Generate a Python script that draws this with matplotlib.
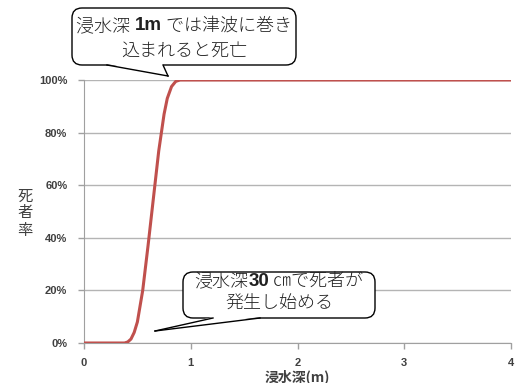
import matplotlib
matplotlib.use("Agg")
import matplotlib.pyplot as plt
import matplotlib.transforms as mtransforms
from matplotlib.patches import FancyBboxPatch, Polygon
from matplotlib.lines import Line2D

plt.rcParams['font.family'] = ['Noto Sans CJK JP', 'DejaVu Sans']

# inundation depth (m) vs. death rate
depth = [0, 0.38, 0.41, 0.44, 0.47, 0.50, 0.55, 0.60, 0.65, 0.70, 0.75,
         0.78, 0.82, 0.86, 0.90, 4.0]
death_rate = [0, 0, 0.004, 0.015, 0.04, 0.08, 0.20, 0.37, 0.55, 0.73, 0.87,
              0.93, 0.975, 0.995, 1.0, 1.0]

x_ticks = [0, 1, 2, 3, 4]
y_ticks = [0, 0.2, 0.4, 0.6, 0.8, 1.0]
y_ticklabels = ['0%', '20%', '40%', '60%', '80%', '100%']

W, H = 515, 383
fig = plt.figure(figsize=(W / 100, H / 100), dpi=100)
ax = fig.add_axes([84 / W, 1 - 343 / H, 427 / W, 263 / H])

ax.plot(depth, death_rate, color='#c0504d', lw=2.2, solid_capstyle='round',
        solid_joinstyle='round', zorder=3)

ax.set_xlim(0, 4)
ax.set_ylim(0, 1)
ax.set_xticks(x_ticks)
ax.set_yticks(y_ticks)
ax.set_yticklabels(y_ticklabels)
ax.yaxis.grid(True, color='#b4b4b4', lw=1)
ax.set_axisbelow(True)
for s in ['top', 'right']:
    ax.spines[s].set_visible(False)
for s in ['left', 'bottom']:
    ax.spines[s].set_color('#a0a0a0')
ax.tick_params(axis='both', colors='#a0a0a0', length=4, width=1, labelcolor='#404040')
for lab in ax.get_xticklabels() + ax.get_yticklabels():
    lab.set_family('Liberation Sans')
    lab.set_weight('bold')
    lab.set_fontsize(8)
ax.tick_params(axis='y', pad=8)
ax.tick_params(axis='x', pad=7)

# pixel transform (origin top-left)
px = mtransforms.Affine2D().scale(1 / W, -1 / H).translate(0, 1) + fig.transFigure

fig.text(297, 377, '浸水深(m)', transform=px, ha='center', va='center',
         fontsize=10, color='#404040', fontweight='bold')
fig.text(25, 213, '死\n者\n率', transform=px, ha='center', va='center',
         fontsize=11, color='#404040', linespacing=1.0)

renderer = fig.canvas.get_renderer()


def rich_line(cx, cy, segments):
    # segments: (text, bold?) pieces laid out side by side, centred on cx
    texts = []
    for seg, bold in segments:
        if bold:
            t = fig.text(0, cy, seg, transform=px, va='center', ha='left',
                         fontsize=13.5, family='Liberation Sans', weight='bold',
                         color='#202020', zorder=13)
        else:
            t = fig.text(0, cy, seg, transform=px, va='center', ha='left',
                         fontsize=13, weight='light', color='#202020', zorder=13)
        texts.append(t)
    widths = [t.get_window_extent(renderer).width for t in texts]
    x = cx - sum(widths) / 2
    for t, w in zip(texts, widths):
        t.set_x(x)
        x += w


def callout(x0, y0, x1, y1, base, tip, lines, centers):
    box = FancyBboxPatch((x0, y0), x1 - x0, y1 - y0,
                         boxstyle='round,pad=0,rounding_size=10',
                         transform=px, facecolor='white', edgecolor='black',
                         lw=1, zorder=10, clip_on=False)
    fig.add_artist(box)
    tail = Polygon([(base[0], y1 - 1), tip, (base[1], y1 - 1)], closed=True,
                   transform=px, facecolor='white', edgecolor='none',
                   zorder=11, clip_on=False)
    fig.add_artist(tail)
    for bx in base:
        fig.add_artist(Line2D([bx, tip[0]], [y1, tip[1]], transform=px,
                              color='black', lw=1, zorder=12))
    cx = (x0 + x1) / 2
    for segs, cy in zip(lines, centers):
        rich_line(cx, cy, segs)


callout(72, 8, 296, 65, (107, 163), (168, 76),
        [[('浸水深 ', False), ('1m', True), (' では津波に巻き', False)],
         [('込まれると死亡', False)]], [26, 51])
callout(183, 272, 375, 318, (213, 260), (155, 331),
        [[('浸水深', False), ('30', True), (' ㎝で死者が', False)],
         [('発生し始める', False)]], [281, 304])

fig.savefig('out.png', dpi=100)
